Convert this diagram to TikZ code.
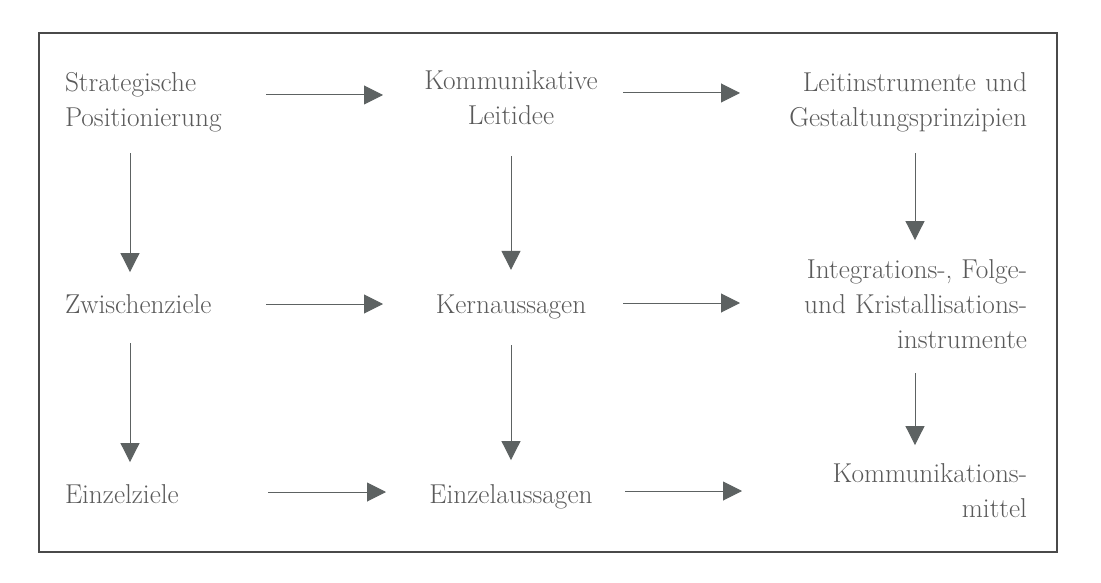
\documentclass[tikz,border=0pt]{standalone}
\usetikzlibrary{arrows.meta}
\definecolor{inkgray}{HTML}{5A5A5A}
\definecolor{arrowgray}{HTML}{5D6262}
\definecolor{framegray}{HTML}{4A4A4A}
\begin{document}
\begin{tikzpicture}[x=1pt,y=-1pt,
  lbl/.style={inner sep=0pt,outer sep=0pt,text=inkgray,
    font=\fontsize{27.3}{35}\selectfont},
  leftcol/.style={lbl,anchor=base west,text width=191pt,align=left},
  midcol/.style={lbl,anchor=base,text width=224pt,align=center},
  rightcol/.style={lbl,anchor=base east,text width=277pt,align=right},
  arr/.style={draw=arrowgray,line width=1pt,
    -{Triangle[length=19pt,width=19pt]},fill=arrowgray}]
\useasboundingbox (0,0) rectangle (1101,583);
\fill[white] (0,0) rectangle (1101,583);
% outer frame
\draw[framegray,line width=1.5pt] (39,33) rectangle (1057,552);

% first row
\node[leftcol]  (sp)  at (65,92)   {Strategische\\Positionierung};
\node[midcol]   (kl)  at (511,90)  {Kommunikative\\Leitidee};
\node[rightcol] (lg)  at (1027,92) {Leitinstrumente und\\Gestaltungsprinzipien};
% second row
\node[leftcol]  (zz)  at (65,313)  {Zwischenziele};
\node[midcol]   (ka)  at (511,313) {Kernaussagen};
\node[rightcol] (ifk) at (1027,278) {Integrations-, Folge-\\und Kristallisations-\\instrumente};
% third row
\node[leftcol]  (ez)  at (65,503)  {Einzelziele};
\node[midcol]   (ea)  at (511,503) {Einzelaussagen};
\node[rightcol] (km)  at (1027,482) {Kommunikations-\\mittel};

% horizontal arrows
\draw[arr,shorten <=10pt,shorten >=16pt] ([yshift=-3pt]sp.base east) -- ([yshift=-3pt]sp.base east -| kl.west);
\draw[arr,shorten >=10pt] ([yshift=-3pt]kl.base east) -- ([yshift=-3pt]kl.base east -| lg.west);
\draw[arr,shorten <=10pt,shorten >=16pt] ([yshift=9pt]zz.base east) -- ([yshift=9pt]zz.base east -| ka.west);
\draw[arr,shorten >=10pt] ([yshift=10pt]ka.base east) -- ([yshift=10pt]ka.base east -| ifk.west);
\draw[arr,shorten <=12pt,shorten >=13pt] ([yshift=11pt]ez.base east) -- ([yshift=11pt]ez.base east -| ea.west);
\draw[arr,shorten <=2pt,shorten >=8pt] ([yshift=12pt]ea.base east) -- ([yshift=12pt]ea.base east -| km.west);

% vertical arrows
\draw[arr] ([xshift=65pt,yshift=-20.6pt]sp.south west) -- ([xshift=65pt,yshift=22pt]zz.north west);
\draw[arr] ([xshift=65pt,yshift=-30pt]zz.south west) -- ([xshift=65pt,yshift=22pt]ez.north west);
\draw[arr] ([yshift=-31pt]kl.south) -- ([yshift=24.5pt]ka.north);
\draw[arr] ([yshift=-26.6pt]ka.south) -- ([yshift=24pt]ea.north);
\draw[arr] ([xshift=165pt,yshift=-20.6pt]lg.south west) -- ([xshift=165pt,yshift=19pt]ifk.north west);
\draw[arr] ([xshift=165pt,yshift=-25pt]ifk.south west) -- ([xshift=165pt,yshift=18pt]km.north west);
\end{tikzpicture}
\end{document}
